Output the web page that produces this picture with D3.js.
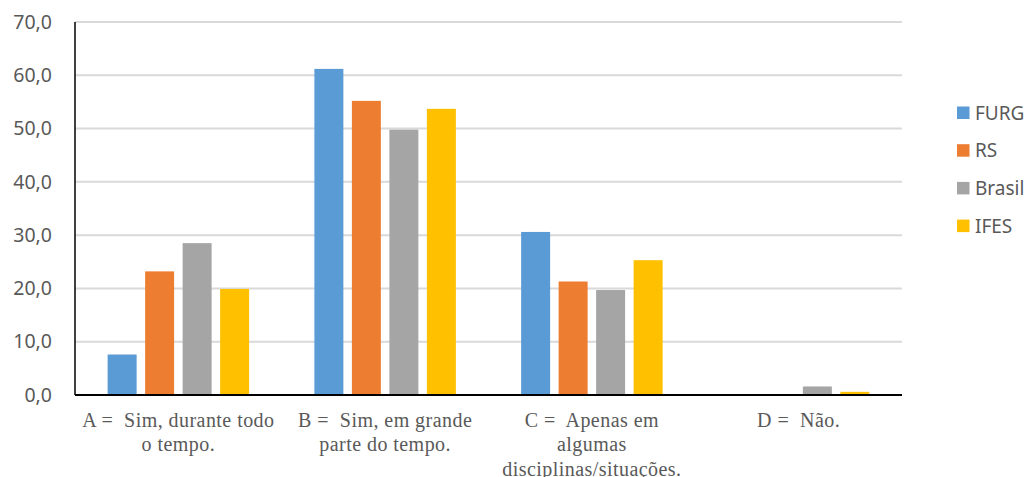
<!DOCTYPE html>
<html>
<head>
<meta charset="utf-8">
<script src="https://cdn.jsdelivr.net/npm/d3@7"></script>
<style>
  html, body { margin: 0; padding: 0; background: #fff; }
  svg { display: block; }
</style>
</head>
<body>
<svg id="chart" width="1031" height="477"></svg>
<script>
const categories = ["A", "B", "C", "D"];
const categoryLabels = [
  ["A =  Sim, durante todo", "o tempo."],
  ["B =  Sim, em grande", "parte do tempo."],
  ["C =  Apenas em", "algumas", "disciplinas/situações."],
  ["D =  Não."]
];
const seriesNames = ["FURG", "RS", "Brasil", "IFES"];
const seriesColors = ["#5B9BD5", "#ED7D31", "#A5A5A5", "#FFC000"];
const FURG = [7.6, 61.2, 30.6, 0.0];
const RS = [23.2, 55.2, 21.3, 0.0];
const Brasil = [28.5, 49.8, 19.7, 1.6];
const IFES = [19.9, 53.7, 25.3, 0.6];
const seriesValues = [FURG, RS, Brasil, IFES];
const yTicks = [0, 10, 20, 30, 40, 50, 60, 70];

(function () {
const svg = d3.select("#chart");
const mLeft = 75, mRight = 902, mTop = 22, mBottom = 395;

const y = d3.scaleLinear().domain([0, 70]).range([mBottom, mTop]);
const x0 = d3.scaleBand().domain(categories).range([mLeft, mRight])
  .paddingInner(0.2745).paddingOuter(0.13725);
const x1 = d3.scaleBand().domain(seriesNames).range([0, x0.bandwidth()])
  .paddingInner(0.227).paddingOuter(0.1135);
const color = d3.scaleOrdinal().domain(seriesNames).range(seriesColors);

// gridlines
svg.append("g")
  .selectAll("line")
  .data(yTicks.filter(t => t > 0))
  .join("line")
  .attr("x1", mLeft).attr("x2", mRight)
  .attr("y1", d => y(d)).attr("y2", d => y(d))
  .attr("stroke", "#D9D9D9").attr("stroke-width", 2);

// y axis labels
const yAxis = d3.axisLeft(y).tickValues(yTicks)
  .tickFormat(d => d3.format(".1f")(d).replace(".", ","))
  .tickSize(0).tickPadding(23);
const gy = svg.append("g").attr("transform", `translate(${mLeft},0)`).call(yAxis);
gy.select(".domain").remove();
gy.selectAll("text")
  .attr("font-family", "'Noto Sans', sans-serif")
  .attr("font-size", 19.5)
  .attr("fill", "#595959");

// bars
const groups = svg.append("g")
  .selectAll("g")
  .data(categories)
  .join("g")
  .attr("transform", d => `translate(${x0(d)},0)`);
groups.selectAll("rect")
  .data((d, i) => seriesNames.map((s, j) => ({ s, v: seriesValues[j][i] })))
  .join("rect")
  .attr("x", d => x1(d.s))
  .attr("width", x1.bandwidth())
  .attr("y", d => y(d.v))
  .attr("height", d => y(0) - y(d.v))
  .attr("fill", d => color(d.s));

// axis lines
svg.append("line")
  .attr("x1", mLeft).attr("x2", mLeft)
  .attr("y1", mTop).attr("y2", mBottom)
  .attr("stroke", "#000").attr("stroke-width", 1.5);
svg.append("line")
  .attr("x1", mLeft).attr("x2", mRight)
  .attr("y1", mBottom).attr("y2", mBottom)
  .attr("stroke", "#000").attr("stroke-width", 2.2);

// x category labels
const xl = svg.append("g");
categories.forEach((c, i) => {
  const cx = x0(c) + x0.bandwidth() / 2;
  const t = xl.append("text")
    .attr("x", cx)
    .attr("y", 427)
    .attr("text-anchor", "middle")
    .attr("font-family", "'Liberation Serif', 'Times New Roman', serif")
    .attr("font-size", 20)
    .attr("letter-spacing", 0.45)
    .attr("fill", "#595959")
    .attr("xml:space", "preserve");
  categoryLabels[i].forEach((line, k) => {
    t.append("tspan")
      .attr("x", cx)
      .attr("dy", k === 0 ? 0 : 24.3)
      .text(line);
  });
});

// legend
const legend = svg.append("g");
seriesNames.forEach((s, i) => {
  const cy = 113 + i * 37.7;
  legend.append("rect")
    .attr("x", 957).attr("y", cy - 6.5)
    .attr("width", 12.5).attr("height", 12.5)
    .attr("fill", color(s));
  legend.append("text")
    .attr("x", 975).attr("y", cy)
    .attr("dy", "0.35em")
    .attr("font-family", "'Noto Sans', sans-serif")
    .attr("font-size", 19)
    .attr("fill", "#595959")
    .text(s);
});
})();
</script>
</body>
</html>
